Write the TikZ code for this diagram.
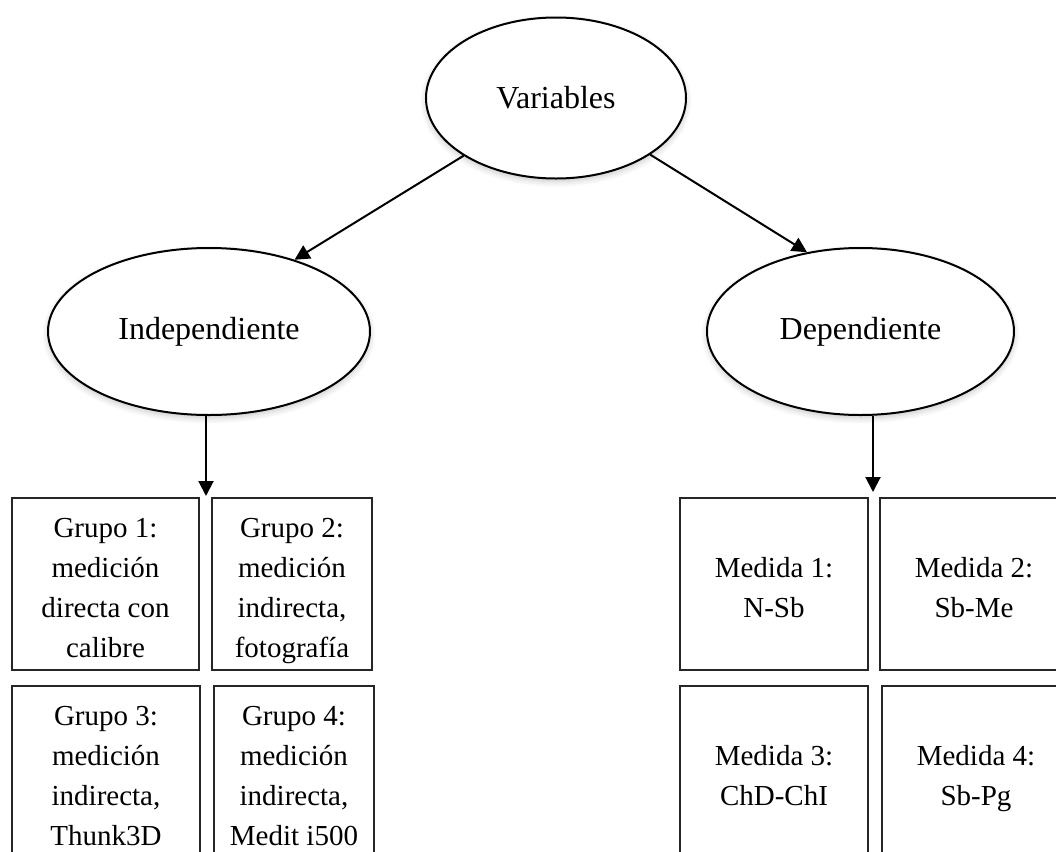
\documentclass[tikz,border=0pt]{standalone}
\usepackage{fontspec}
\setmainfont{Liberation Serif}
\usetikzlibrary{shapes.geometric,arrows.meta,shadows.blur}

% even strut for the lines in the boxes
\newcommand{\boxstrut}{\vrule width 0pt height 16.5pt depth 3.5pt}

\tikzset{
  varnode/.style={ellipse, draw, line width=1pt, fill=white, inner sep=0pt,
    font=\fontsize{16}{20}\selectfont,
    blur shadow={shadow xshift=0pt, shadow yshift=-1.5pt, shadow blur radius=3pt,
      shadow blur steps=6, shadow opacity=22}},
  groupbox/.style={rectangle, draw=black!85, line width=0.7pt, inner sep=0pt,
    minimum height=86pt, align=center, font=\fontsize{14.5}{20}\selectfont},
  link/.style={line width=1pt, -{Triangle[length=7.5pt,width=7.5pt]}}
}

\begin{document}
\begin{tikzpicture}[x=0.5pt, y=-0.5pt]
  % Frame of the page, boxes run past it
  \useasboundingbox (0,0) rectangle (1056,852);
  \clip (0,0) rectangle (1056,852);

  % Variables and their two kinds
  \node[varnode, minimum width=130pt, minimum height=80.5pt] (var) at (556,98) {Variables};
  \node[varnode, minimum width=161pt, minimum height=83.5pt] (ind) at (209,331.5) {Independiente};
  \node[varnode, minimum width=153.5pt, minimum height=83.5pt] (dep) at (860.5,331.5) {Dependiente};

  % Groups of the independent variable
  \node[groupbox, minimum width=93.5pt] (g1) at (105.5,584) {\boxstrut Grupo 1:\\medición\\directa con\\calibre\boxstrut};
  \node[groupbox, minimum width=80pt] (g2) at (292,584) {\boxstrut Grupo 2:\\medición\\indirecta,\\fotografía\boxstrut};
  \node[groupbox, minimum width=94pt] (g3) at (106,772) {\boxstrut Grupo 3:\\medición\\indirecta,\\Thunk3D\boxstrut};
  \node[groupbox, minimum width=80pt] (g4) at (294,772) {\boxstrut Grupo 4:\\medición\\indirecta,\\Medit i500\boxstrut};

  % Measures of the dependent variable
  \node[groupbox, minimum width=94pt] (m1) at (774,584) {\boxstrut Medida 1:\\N-Sb\boxstrut};
  \node[groupbox, minimum width=94pt] (m2) at (974,584) {\boxstrut Medida 2:\\Sb-Me\boxstrut};
  \node[groupbox, minimum width=94pt] (m3) at (774,772) {\boxstrut Medida 3:\\ChD-ChI\boxstrut};
  \node[groupbox, minimum width=94pt] (m4) at (976,772) {\boxstrut Medida 4:\\Sb-Pg\boxstrut};

  % Arrows
  \coordinate (indtip) at (206,496);
  \coordinate (deptip) at (873,492);
  \draw[link] (var.212) -- (ind.40);
  \draw[link] (var.329) -- (dep.124);
  \draw[link] (indtip |- ind.south) -- (indtip);
  \draw[link] (deptip |- dep.south) -- (deptip);
\end{tikzpicture}
\end{document}
